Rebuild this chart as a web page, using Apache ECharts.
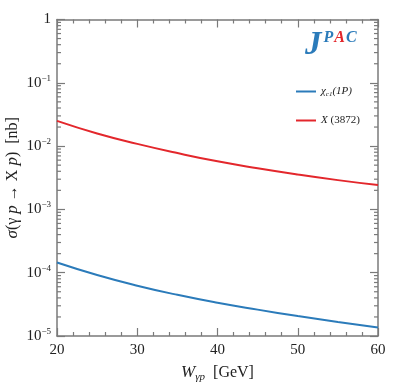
<!DOCTYPE html>
<html>
<head>
<meta charset="UTF-8" />
<title>JPAC cross section</title>
<script src="https://cdn.jsdelivr.net/npm/echarts@6/dist/echarts.min.js"></script>
<style>
  html, body { margin: 0; padding: 0; background: #fff; }
  #chart { width: 399px; height: 383px; }
</style>
</head>
<body>
<div id="chart"></div>
<script>
// W_gamma p in GeV
var energies = [20, 25, 30, 35, 40, 45, 50, 55, 60];
// sigma in nb
var chiC1 = [1.45e-4, 9.2e-5, 6.24e-5, 4.47e-5, 3.35e-5, 2.61e-5, 2.07e-5, 1.67e-5, 1.36e-5];
var x3872 = [0.025, 0.0158, 0.01084, 0.00776, 0.00575, 0.00447, 0.00356, 0.0029, 0.00242];
var yDecades = [-5, -4, -3, -2, -1, 0];

var BLUE = "#2b7bba";
var RED = "#e3272c";
var AXIS = "#7a7a7a";
var SERIF = "Liberation Serif";

function pairs(xs, ys) {
  return xs.map(function (x, i) { return [x, ys[i]]; });
}

function yLabel(v) {
  var e = Math.round(Math.log10(v));
  if (e === 0) return "1";
  return "{b|10}{s|\u2212" + (-e) + "}";
}

var chart = echarts.init(document.getElementById("chart"));

var tickCommon = {
  axisLine: { show: true, lineStyle: { color: AXIS, width: 1.5 } },
  splitLine: { show: false },
};

chart.setOption({
  animation: false,
  grid: { left: 57, right: 21, top: 19.5, bottom: 47, containLabel: false, outerBoundsMode: "none" },
  title: {
    left: 300, top: 24,
    text: "{j|J}{p|P}{a|A}{c|C}",
    textStyle: {
      rich: {
        j: { fontFamily: SERIF, fontSize: 33, fontWeight: "bold", fontStyle: "italic", color: BLUE },
        p: { fontFamily: SERIF, fontSize: 16, fontWeight: "bold", fontStyle: "italic", color: BLUE, padding: [0, 0, 16, 2] },
        a: { fontFamily: SERIF, fontSize: 16, fontWeight: "bold", fontStyle: "italic", color: RED, padding: [0, 0, 16, 1] },
        c: { fontFamily: SERIF, fontSize: 16, fontWeight: "bold", fontStyle: "italic", color: BLUE, padding: [0, 0, 16, 1] }
      }
    }
  },
  legend: {
    orient: "vertical",
    left: 291, top: 81,
    icon: "rect",
    itemWidth: 20, itemHeight: 2, itemGap: 17,
    data: ["chi", "X"],
    formatter: function (n) {
      return n === "chi" ? "{i|\u03c7}{sub|c1}{i|(1P)}" : "{i|X}{r| (3872)}";
    },
    textStyle: {
      color: "#222",
      rich: {
        i: { fontFamily: SERIF, fontSize: 11, fontStyle: "italic", lineHeight: 16 },
        r: { fontFamily: SERIF, fontSize: 11, lineHeight: 16 },
        sub: { fontFamily: SERIF, fontSize: 7, fontStyle: "italic", padding: [6, 0, 0, 0] }
      }
    }
  },
  xAxis: [
    Object.assign({
      type: "value", min: 20, max: 60, interval: 10,
      name: "{i|W}{sub|\u03b3p}  [GeV]",
      nameLocation: "middle", nameGap: 26, nameMoveOverlap: false,
      nameTextStyle: {
        color: "#222",
        rich: {
          i: { fontFamily: SERIF, fontSize: 17, fontStyle: "italic" },
          sub: { fontFamily: SERIF, fontSize: 11, fontStyle: "italic", padding: [10, 0, 0, 0] }
        },
        fontFamily: SERIF, fontSize: 16
      },
      axisTick: { inside: true, length: 8, lineStyle: { color: AXIS, width: 1.2 } },
      minorTick: { show: true, splitNumber: 5, length: 4, lineStyle: { color: AXIS, width: 1.2 } },
      axisLabel: { fontFamily: SERIF, fontSize: 15, color: "#222", margin: 7 }
    }, tickCommon),
    Object.assign({
      type: "value", min: 20, max: 60, interval: 10, position: "top",
      axisTick: { inside: true, length: 8, lineStyle: { color: AXIS, width: 1.2 } },
      minorTick: { show: true, splitNumber: 5, length: 4, lineStyle: { color: AXIS, width: 1.2 } },
      axisLabel: { show: false }
    }, tickCommon)
  ],
  yAxis: [
    Object.assign({
      type: "log", logBase: 10, min: 1e-5, max: 1, interval: 1,
      name: "{i|\u03c3}(\u03b3 {i|p} \u2192 X {i|p})  [nb]",
      nameLocation: "middle", nameRotate: 90, nameGap: 36, nameMoveOverlap: false,
      nameTextStyle: {
        color: "#222", fontFamily: SERIF, fontSize: 16,
        rich: { i: { fontFamily: SERIF, fontSize: 17, fontStyle: "italic" } }
      },
      axisTick: { inside: true, length: 8, lineStyle: { color: AXIS, width: 1.2 } },
      axisLabel: {
        margin: 6, color: "#222",
        formatter: yLabel,
        fontFamily: SERIF, fontSize: 15,
        rich: {
          b: { fontFamily: SERIF, fontSize: 15 },
          s: { fontFamily: SERIF, fontSize: 9, padding: [0, 0, 9, 0] }
        }
      }
    }, tickCommon),
    Object.assign({
      type: "log", logBase: 10, min: 1e-5, max: 1, interval: 1, position: "right",
      axisTick: { inside: true, length: 8, lineStyle: { color: AXIS, width: 1.2 } },
      axisLabel: { show: false }
    }, tickCommon)
  ],
  series: [
    {
      name: "chi", type: "line", symbol: "none", smooth: true,
      lineStyle: { color: BLUE, width: 2 }, itemStyle: { color: BLUE },
      data: pairs(energies, chiC1)
    },
    {
      name: "X", type: "line", symbol: "none", smooth: true,
      lineStyle: { color: RED, width: 2 }, itemStyle: { color: RED },
      data: pairs(energies, x3872)
    }
  ]
});

// log minor ticks (2..9 per decade) placed through the axis scale
var minor = [];
var xl = chart.convertToPixel({ xAxisIndex: 0 }, 20);
var xr = chart.convertToPixel({ xAxisIndex: 0 }, 60);
yDecades.slice(0, -1).forEach(function (e) {
  for (var k = 2; k <= 9; k++) {
    var py = chart.convertToPixel({ yAxisIndex: 0 }, k * Math.pow(10, e));
    minor.push({ type: "line", shape: { x1: xl, y1: py, x2: xl + 4, y2: py }, style: { stroke: AXIS, lineWidth: 1.2 }, silent: true });
    minor.push({ type: "line", shape: { x1: xr, y1: py, x2: xr - 4, y2: py }, style: { stroke: AXIS, lineWidth: 1.2 }, silent: true });
  }
});
chart.setOption({ graphic: minor });
</script>
</body>
</html>
